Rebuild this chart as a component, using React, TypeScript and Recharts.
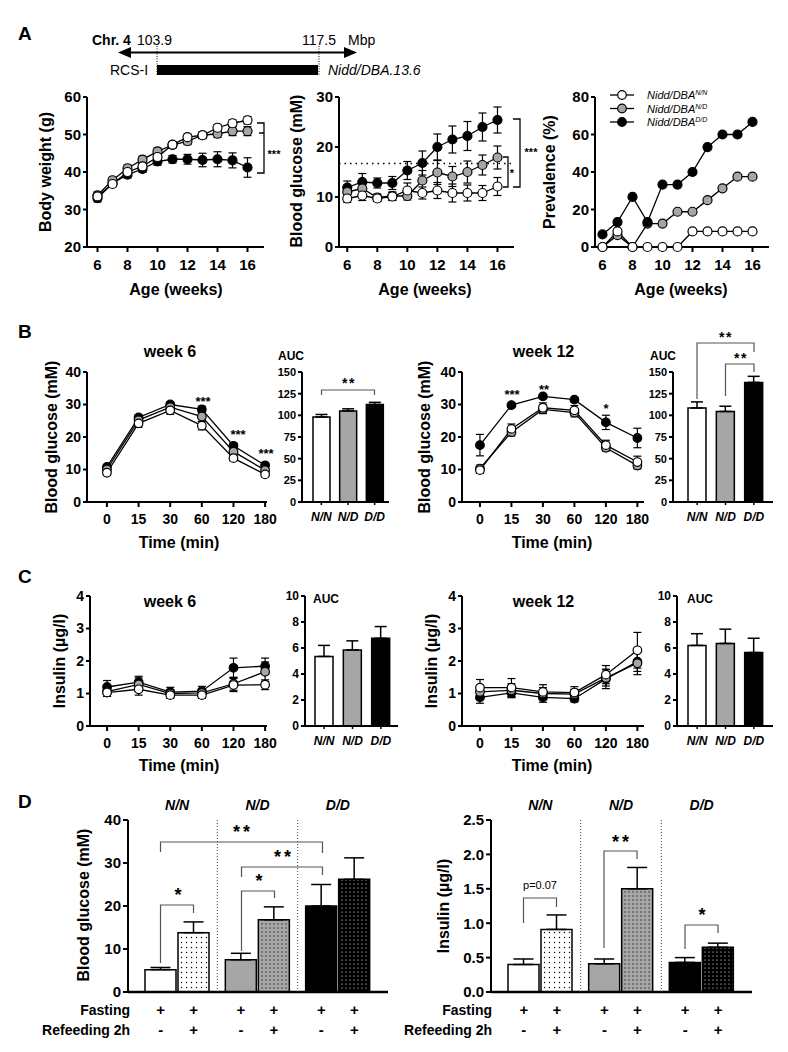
import React from "react";
import { LineChart, Line, BarChart, Bar, Cell, XAxis, YAxis, ErrorBar, ReferenceLine } from "recharts";

// values (mean, SD)
const WEEKS = [6, 7, 8, 9, 10, 11, 12, 13, 14, 15, 16];
const WEEK_TICKS = [6, 8, 10, 12, 14, 16];
const TIMES = ["0", "15", "30", "60", "120", "180"];
const GENOTYPES = ["N/N", "N/D", "D/D"];
const FEEDING = [
  ["+", "+"],
  ["-", "+"],
];

const BW_NN = [33.5, 36.8, 40.0, 41.5, 44.0, 47.3, 49.3, 49.8, 51.8, 53.0, 53.8];
const BW_NN_SD = [0.8, 0.7, 0.8, 0.8, 0.8, 0.7, 0.8, 0.8, 0.9, 0.9, 1.0];
const BW_ND = [33.8, 37.8, 41.0, 43.3, 45.5, 47.2, 48.2, 49.8, 50.2, 50.9, 50.9];
const BW_ND_SD = [0.9, 0.8, 0.9, 0.9, 0.9, 0.8, 0.9, 0.9, 1.0, 1.2, 1.2];
const BW_DD = [33.0, 37.0, 39.3, 40.8, 42.8, 43.4, 43.4, 43.2, 43.4, 43.1, 41.2];
const BW_DD_SD = [1.0, 0.8, 0.9, 0.9, 1.0, 1.0, 1.3, 1.8, 2.0, 2.0, 2.6];

const BG_NN = [9.7, 10.3, 9.7, 10.1, 11.3, 10.8, 11.3, 10.8, 10.8, 10.8, 12.1];
const BG_NN_SD = [0.8, 1.0, 0.6, 0.8, 1.5, 1.2, 1.6, 1.8, 1.6, 1.5, 1.8];
const BG_ND = [11.0, 11.7, 9.9, 10.2, 10.2, 13.3, 14.9, 14.1, 15.0, 16.4, 17.9];
const BG_ND_SD = [0.8, 1.2, 0.7, 0.8, 0.8, 2.0, 2.4, 2.0, 2.2, 2.0, 2.3];
const BG_DD = [11.9, 13.0, 12.8, 12.8, 15.3, 16.8, 20.0, 21.5, 22.2, 24.0, 25.4];
const BG_DD_SD = [1.3, 1.7, 1.0, 1.3, 1.8, 2.4, 2.6, 2.7, 2.9, 2.8, 2.6];
const DIABETES_CUTOFF = 16.7;

const PREV_NN = [0, 8.3, 0, 0, 0, 0, 8.3, 8.3, 8.3, 8.3, 8.3];
const PREV_ND = [0, 6.3, 0, 12.5, 12.5, 18.8, 18.8, 25, 31.3, 37.5, 37.5];
const PREV_DD = [6.7, 13.3, 26.7, 13.3, 33.3, 33.3, 40, 53.3, 60, 60, 66.7];

const GTT6_NN = [9.0, 24.2, 28.2, 23.5, 13.5, 8.5];
const GTT6_NN_SD = [0.8, 1.2, 1.2, 1.3, 0.8, 0.7];
const GTT6_ND = [10.0, 25.2, 29.2, 26.3, 15.5, 9.8];
const GTT6_ND_SD = [0.6, 1.0, 1.0, 1.5, 1.0, 0.7];
const GTT6_DD = [10.8, 26.0, 30.0, 28.5, 17.3, 11.3];
const GTT6_DD_SD = [0.6, 0.8, 0.8, 1.0, 0.8, 0.7];
const GTT6_AUC = [98, 105, 112.5];
const GTT6_AUC_SD = [3, 2.5, 2.5];

const GTT12_NN = [9.8, 22.5, 29.0, 28.2, 17.5, 12.3];
const GTT12_NN_SD = [1.0, 1.5, 1.5, 1.5, 1.5, 1.8];
const GTT12_ND = [10.3, 21.5, 28.5, 27.5, 16.7, 11.2];
const GTT12_ND_SD = [1.0, 1.2, 1.3, 1.3, 1.0, 1.0];
const GTT12_DD = [17.5, 29.8, 32.5, 31.5, 24.5, 19.7];
const GTT12_DD_SD = [3.3, 0.6, 0.6, 0.6, 2.2, 3.0];
const GTT12_AUC = [108.5, 104.5, 138];
const GTT12_AUC_SD = [7, 6, 7];

const INS6_NN = [1.03, 1.13, 0.95, 0.95, 1.26, 1.27];
const INS6_NN_SD = [0.12, 0.18, 0.1, 0.1, 0.2, 0.15];
const INS6_ND = [1.06, 1.28, 1.0, 1.02, 1.3, 1.67];
const INS6_ND_SD = [0.15, 0.2, 0.12, 0.12, 0.2, 0.3];
const INS6_DD = [1.2, 1.35, 1.04, 1.07, 1.79, 1.84];
const INS6_DD_SD = [0.2, 0.18, 0.15, 0.15, 0.3, 0.25];
const INS6_AUC = [5.35, 5.85, 6.75];
const INS6_AUC_SD = [0.85, 0.7, 0.9];

const INS12_NN = [1.18, 1.18, 1.05, 1.03, 1.58, 2.33];
const INS12_NN_SD = [0.25, 0.28, 0.22, 0.18, 0.28, 0.55];
const INS12_ND = [1.05, 1.1, 1.0, 0.98, 1.48, 1.93];
const INS12_ND_SD = [0.2, 0.2, 0.18, 0.15, 0.25, 0.35];
const INS12_DD = [0.88, 1.02, 0.88, 0.84, 1.45, 1.98];
const INS12_DD_SD = [0.18, 0.15, 0.15, 0.1, 0.3, 0.3];
const INS12_AUC = [6.2, 6.35, 5.65];
const INS12_AUC_SD = [0.9, 1.1, 1.1];

const FAST_GLU = [5.2, 7.5, 20.0];
const FAST_GLU_SD = [0.5, 1.5, 5.0];
const REFED_GLU = [13.8, 16.8, 26.2];
const REFED_GLU_SD = [2.5, 3.0, 5.0];
const FAST_INS = [0.4, 0.41, 0.43];
const FAST_INS_SD = [0.08, 0.07, 0.07];
const REFED_INS = [0.91, 1.5, 0.65];
const REFED_INS_SD = [0.21, 0.31, 0.06];

// ---- styling ----
const FONT = '"Liberation Sans", Arial, Helvetica, sans-serif';
const GRAY = "#a6a6a6";
const FILL: Record<string, string> = { nn: "#ffffff", nd: GRAY, dd: "#000000" };
const REFED_FILL = ["url(#dotW)", "url(#dotG)", "url(#dotK)"];
const AXIS = { stroke: "#000", strokeWidth: 2 };
const BAR_D = 31;
const GAP_D = 2;

const tickStyle = (size: number, italic = false) => ({
  fill: "#000",
  fontSize: size,
  fontWeight: 700,
  fontFamily: FONT,
  fontStyle: italic ? "italic" : "normal",
});

type Pad = { l: number; t: number; r: number; b: number };
const PAD: Pad = { l: 44, t: 12, r: 14, b: 34 };
const PAD_D: Pad = { l: 44, t: 30, r: 10, b: 50 };

function place(x0: number, y0: number, x1: number, y1: number, p: Pad = PAD) {
  const width = x1 - x0 + p.l + p.r;
  const height = y1 - y0 + p.t + p.b;
  return {
    style: { position: "absolute", left: x0 - p.l, top: y0 - p.t, width, height } as React.CSSProperties,
    width,
    height,
  };
}

function rows(xs: number[], nn: number[], nd: number[], dd: number[], nnE?: number[], ndE?: number[], ddE?: number[]) {
  return xs.map((x, i) => ({
    x,
    nn: nn[i],
    nd: nd[i],
    dd: dd[i],
    nnE: nnE ? nnE[i] : 0,
    ndE: ndE ? ndE[i] : 0,
    ddE: ddE ? ddE[i] : 0,
  }));
}
const TIME_IDX = TIMES.map((_, i) => i);

function seriesLines(order: string[], r: number, err: boolean) {
  return order.map((k) => (
    <Line
      key={k}
      type="linear"
      dataKey={k}
      stroke="#000"
      strokeWidth={1.3}
      isAnimationActive={false}
      activeDot={false}
      dot={{ r, fill: FILL[k], stroke: "#000", strokeWidth: 1.2 }}
    >
      {err ? <ErrorBar dataKey={k + "E"} width={4} stroke="#000" strokeWidth={1.2} direction="y" isAnimationActive={false} /> : null}
    </Line>
  ));
}

type CourseProps = {
  box: number[];
  data: any[];
  xDomain: number[];
  xTicks: number[];
  xFormat?: (v: number) => string;
  yDomain: number[];
  yTicks: number[];
  order: string[];
  err: boolean;
  r: number;
  font: number;
  cutoff?: number;
};

function Course({ box, data, xDomain, xTicks, xFormat, yDomain, yTicks, order, err, r, font, cutoff }: CourseProps) {
  const f = place(box[0], box[1], box[2], box[3]);
  return (
    <div style={f.style}>
      <LineChart width={f.width} height={f.height} data={data} margin={{ top: PAD.t, right: PAD.r, bottom: 0, left: 0 }}>
        <XAxis
          dataKey="x"
          type="number"
          domain={xDomain}
          ticks={xTicks}
          interval={0}
          tickFormatter={xFormat}
          axisLine={AXIS}
          tickLine={AXIS}
          tickSize={5}
          tickMargin={7}
          tick={tickStyle(font)}
          height={PAD.b}
        />
        <YAxis
          type="number"
          domain={yDomain}
          ticks={yTicks}
          interval={0}
          axisLine={AXIS}
          tickLine={AXIS}
          tickSize={4}
          tickMargin={2}
          tick={tickStyle(font)}
          width={PAD.l}
        />
        {cutoff !== undefined ? (
          <ReferenceLine y={cutoff} stroke="#000" strokeWidth={1.6} strokeDasharray="1.5 4" />
        ) : null}
        {seriesLines(order, r, err)}
      </LineChart>
    </div>
  );
}

type AucProps = {
  box: number[];
  values: number[];
  sd: number[];
  yDomain: number[];
  yTicks: number[];
  barSize: number;
  padL: number;
  padR: number;
  font: number;
};

function Auc({ box, values, sd, yDomain, yTicks, barSize, padL, padR, font }: AucProps) {
  const f = place(box[0], box[1], box[2], box[3]);
  const data = GENOTYPES.map((g, i) => ({ g, v: values[i], e: [0, sd[i]] }));
  const fills = [FILL.nn, FILL.nd, FILL.dd];
  return (
    <div style={f.style}>
      <BarChart width={f.width} height={f.height} data={data} margin={{ top: PAD.t, right: PAD.r, bottom: 0, left: 0 }} barSize={barSize}>
        <XAxis
          dataKey="g"
          interval={0}
          padding={{ left: padL, right: padR }}
          axisLine={AXIS}
          tickLine={{ stroke: "#000", strokeWidth: 1.5 }}
          tickSize={3}
          tickMargin={7}
          tick={tickStyle(12, true)}
          height={PAD.b}
        />
        <YAxis
          type="number"
          domain={yDomain}
          ticks={yTicks}
          interval={0}
          axisLine={AXIS}
          tickLine={AXIS}
          tickSize={4}
          tickMargin={2}
          tick={tickStyle(font)}
          width={PAD.l}
        />
        <Bar dataKey="v" stroke="#000" strokeWidth={1.5} isAnimationActive={false}>
          {data.map((_, i) => (
            <Cell key={i} fill={fills[i]} />
          ))}
          <ErrorBar dataKey="e" width={6} stroke="#000" strokeWidth={1.5} direction="y" isAnimationActive={false} />
        </Bar>
      </BarChart>
    </div>
  );
}

function FeedTick(props: any) {
  const { x, y } = props;
  const off = (BAR_D + GAP_D) / 2;
  return (
    <g>
      {FEEDING.map((row, r) =>
        row.map((s, j) => (
          <text
            key={`${r}-${j}`}
            x={x + (j === 0 ? -off : off)}
            y={y + 23 + r * 20}
            textAnchor="middle"
            fontSize={15}
            fontWeight={700}
            fontFamily={FONT}
            fill="#000"
          >
            {s}
          </text>
        ))
      )}
    </g>
  );
}

type FeedProps = {
  box: number[];
  fast: number[];
  fastSd: number[];
  refed: number[];
  refedSd: number[];
  yDomain: number[];
  yTicks: number[];
  yFormat?: (v: number) => string;
  padL: number;
  padR: number;
};

function Feeding({ box, fast, fastSd, refed, refedSd, yDomain, yTicks, yFormat, padL, padR }: FeedProps) {
  const f = place(box[0], box[1], box[2], box[3], PAD_D);
  const fills = [FILL.nn, FILL.nd, FILL.dd];
  const data = GENOTYPES.map((g, i) => ({
    g,
    fast: fast[i],
    fastE: [0, fastSd[i]],
    refed: refed[i],
    refedE: [0, refedSd[i]],
  }));
  return (
    <div style={f.style}>
      <BarChart
        width={f.width}
        height={f.height}
        data={data}
        margin={{ top: 2, right: PAD_D.r, bottom: 0, left: 0 }}
        barSize={BAR_D}
        barGap={GAP_D}
      >
        <XAxis
          dataKey="g"
          interval={0}
          padding={{ left: padL, right: padR }}
          axisLine={{ stroke: "#000", strokeWidth: 2.5 }}
          tickLine={false}
          tickSize={0}
          tickMargin={0}
          tick={FeedTick}
          height={PAD_D.b}
        />
        <XAxis
          xAxisId="top"
          orientation="top"
          dataKey="g"
          interval={0}
          padding={{ left: padL, right: padR }}
          axisLine={false}
          tickLine={false}
          tickSize={6}
          tickMargin={4}
          tick={tickStyle(14, true)}
          height={28}
        />
        <YAxis
          type="number"
          domain={yDomain}
          ticks={yTicks}
          interval={0}
          tickFormatter={yFormat}
          axisLine={AXIS}
          tickLine={AXIS}
          tickSize={5}
          tickMargin={2}
          tick={tickStyle(15)}
          width={PAD_D.l}
        />
        <ReferenceLine x="N/D" position="start" stroke="#444" strokeWidth={1} strokeDasharray="1 2" />
        <ReferenceLine x="D/D" position="start" stroke="#444" strokeWidth={1} strokeDasharray="1 2" />
        <Bar dataKey="fast" stroke="#000" strokeWidth={1.5} isAnimationActive={false}>
          {data.map((_, i) => (
            <Cell key={i} fill={fills[i]} />
          ))}
          <ErrorBar dataKey="fastE" width={10} stroke="#000" strokeWidth={1.5} direction="y" isAnimationActive={false} />
        </Bar>
        <Bar dataKey="refed" stroke="#000" strokeWidth={1.5} isAnimationActive={false}>
          {data.map((_, i) => (
            <Cell key={i} fill={REFED_FILL[i]} />
          ))}
          <ErrorBar dataKey="refedE" width={10} stroke="#000" strokeWidth={1.5} direction="y" isAnimationActive={false} />
        </Bar>
      </BarChart>
    </div>
  );
}

type LP = {
  x: number;
  y: number;
  size?: number;
  bold?: boolean;
  italic?: boolean;
  anchor?: "start" | "middle" | "end";
  rotate?: boolean;
  spacing?: number;
  children: React.ReactNode;
};

function Label({ x, y, size = 16, bold = true, italic = false, anchor = "middle", rotate = false, spacing, children }: LP) {
  return (
    <text
      x={rotate ? 0 : x}
      y={rotate ? 0 : y}
      transform={rotate ? `translate(${x} ${y}) rotate(-90)` : undefined}
      dominantBaseline={rotate ? "central" : undefined}
      fontSize={size}
      fontWeight={bold ? 700 : 400}
      fontStyle={italic ? "italic" : "normal"}
      textAnchor={anchor}
      fontFamily={FONT}
      fill="#000"
      letterSpacing={spacing}
    >
      {children}
    </text>
  );
}

const Stars = ({ x, cy, n, size, spacing }: { x: number; cy: number; n: number; size: number; spacing?: number }) => (
  <Label x={x} y={cy + 0.55 * size} size={size} spacing={spacing}>
    {"*".repeat(n)}
  </Label>
);

const Bracket = ({ d, color = "#555" }: { d: string; color?: string }) => (
  <path d={d} fill="none" stroke={color} strokeWidth={color === "#000" ? 1.3 : 1.2} />
);

function Overlay() {
  const legend = [
    { k: "nn", sup: "N/N", y: 95 },
    { k: "nd", sup: "N/D", y: 108.5 },
    { k: "dd", sup: "D/D", y: 122 },
  ];
  return (
    <svg width={788} height={1052} style={{ position: "absolute", left: 0, top: 0, pointerEvents: "none" }}>
      {/* panel letters */}
      <Label x={18} y={40} size={19} anchor="start">A</Label>
      <Label x={18} y={338} size={19} anchor="start">B</Label>
      <Label x={18} y={583} size={19} anchor="start">C</Label>
      <Label x={18} y={808} size={19} anchor="start">D</Label>

      {/* congenic interval */}
      <Label x={92} y={45} size={14} anchor="start">Chr. 4</Label>
      <Label x={137} y={45} size={14} bold={false} anchor="start">103.9</Label>
      <Label x={302} y={45} size={14} bold={false} anchor="start">117.5</Label>
      <Label x={348} y={45} size={14} bold={false} anchor="start">Mbp</Label>
      <line x1={128} y1={52.5} x2={347} y2={52.5} stroke="#000" strokeWidth={2} />
      <polygon points="118,52.5 131,47 131,58" fill="#000" />
      <polygon points="357,52.5 344,47 344,58" fill="#000" />
      <line x1={157} y1={46} x2={157} y2={75} stroke="#000" strokeWidth={1} strokeDasharray="1 1.5" />
      <line x1={319} y1={46} x2={319} y2={75} stroke="#000" strokeWidth={1} strokeDasharray="1 1.5" />
      <rect x={157} y={65} width={161} height={10} fill="#000" />
      <Label x={110} y={75} size={14} bold={false} anchor="start">RCS-I</Label>
      <Label x={328} y={75} size={14} bold={false} italic anchor="start">Nidd/DBA.13.6</Label>

      {/* panel A titles */}
      <Label x={45} y={172} rotate>Body weight (g)</Label>
      <Label x={296} y={171} rotate>Blood glucose (mM)</Label>
      <Label x={549} y={172} rotate>Prevalence (%)</Label>
      <Label x={176} y={295}>Age (weeks)</Label>
      <Label x={425} y={295}>Age (weeks)</Label>
      <Label x={681} y={295}>Age (weeks)</Label>
      <Bracket color="#000" d="M257 123 H264 V173 H257 M259 133 H264" />
      <Stars x={274} cy={152} n={3} size={11} />
      <Bracket color="#000" d="M513 119 H520 V187 H513" />
      <Stars x={531} cy={150} n={3} size={11} />
      <Bracket color="#000" d="M503 157 H508 V187 H503" />
      <Stars x={512} cy={171} n={1} size={11} />
      {legend.map((e) => (
        <g key={e.k}>
          <line x1={610} y1={e.y} x2={634} y2={e.y} stroke="#000" strokeWidth={1.3} />
          <circle cx={622} cy={e.y} r={4.3} fill={FILL[e.k]} stroke="#000" strokeWidth={1.2} />
          <text x={647} y={e.y + 4} fontSize={11} fontStyle="italic" fontFamily={FONT} fill="#000">
            Nidd/DBA
            <tspan fontSize={7} dy={-4}>
              {e.sup}
            </tspan>
          </text>
        </g>
      ))}

      {/* panel B */}
      <Label x={170} y={357}>week 6</Label>
      <Label x={543.5} y={357}>week 12</Label>
      <Label x={278} y={360} size={12} anchor="start">AUC</Label>
      <Label x={650} y={360} size={12} anchor="start">AUC</Label>
      <Label x={51} y={437} rotate>Blood glucose (mM)</Label>
      <Label x={424} y={437} rotate>Blood glucose (mM)</Label>
      <Label x={179} y={548}>Time (min)</Label>
      <Label x={552} y={548}>Time (min)</Label>
      <Stars x={203} cy={398.5} n={3} size={13} />
      <Stars x={238} cy={432} n={3} size={13} />
      <Stars x={266} cy={451} n={3} size={13} />
      <Stars x={512} cy={392} n={3} size={13} />
      <Stars x={544} cy={387} n={2} size={13} />
      <Stars x={606} cy={406} n={1} size={13} />
      <Bracket d="M321.5 395 V390 H374.5 V395" />
      <Stars x={349} cy={380} n={2} size={14} spacing={1.5} />
      <Bracket d="M697 399 V343 H754 V352" />
      <Stars x={726} cy={334.5} n={2} size={14} spacing={1.5} />
      <Bracket d="M725.5 396 V364 H754 V372" />
      <Stars x={741} cy={355} n={2} size={14} spacing={1.5} />

      {/* panel C */}
      <Label x={170} y={607}>week 6</Label>
      <Label x={543.5} y={607}>week 12</Label>
      <Label x={313} y={603} size={12} anchor="start">AUC</Label>
      <Label x={687} y={603} size={12} anchor="start">AUC</Label>
      <Label x={59} y={661} rotate>Insulin (µg/l)</Label>
      <Label x={431} y={661} rotate>Insulin (µg/l)</Label>
      <Label x={179} y={771}>Time (min)</Label>
      <Label x={552} y={771}>Time (min)</Label>

      {/* panel D */}
      <Label x={83} y={905} rotate>Blood glucose (mM)</Label>
      <Label x={443} y={906} rotate>Insulin (µg/l)</Label>
      <Label x={130} y={1015} size={14} anchor="end">Fasting</Label>
      <Label x={130} y={1035} size={14} anchor="end">Refeeding 2h</Label>
      <Label x={492} y={1015} size={14} anchor="end">Fasting</Label>
      <Label x={492} y={1035} size={14} anchor="end">Refeeding 2h</Label>
      <Bracket d="M160.5 963 V905 H193.5 V913" />
      <Stars x={178} cy={891.5} n={1} size={18} />
      <Bracket d="M241.5 951 V891 H274.5 V898" />
      <Stars x={259} cy={877.5} n={1} size={18} />
      <Bracket d="M241.5 877 V867 H322.5 V875" />
      <Stars x={284} cy={853} n={2} size={18} spacing={3} />
      <Bracket d="M160.5 852 V842 H322.5 V853" />
      <Stars x={243} cy={828.5} n={2} size={18} spacing={3} />
      <Bracket d="M523.5 923 V898 H556.5 V907" />
      <Label x={540} y={889} size={11} bold={false}>p=0.07</Label>
      <Bracket d="M604 948 V851 H637 V859" />
      <Stars x={622} cy={838} n={2} size={18} spacing={3} />
      <Bracket d="M685 949 V925 H718 V933" />
      <Stars x={702} cy={911.5} n={1} size={18} />
    </svg>
  );
}

export default function App() {
  const order = ["dd", "nd", "nn"];
  const fmtTime = (v: number) => TIMES[v] ?? "";
  return (
    <div style={{ position: "relative", width: 788, height: 1052, background: "#fff", overflow: "hidden", fontFamily: FONT }}>
      <style>{"body{margin:0}"}</style>
      <svg width={0} height={0} style={{ position: "absolute" }}>
        <defs>
          <pattern id="dotW" width={5} height={5} patternUnits="userSpaceOnUse">
            <rect width={5} height={5} fill="#fff" />
            <circle cx={2.5} cy={2.5} r={0.7} fill="#000" />
          </pattern>
          <pattern id="dotG" width={4} height={4} patternUnits="userSpaceOnUse">
            <rect width={4} height={4} fill={GRAY} />
            <circle cx={2} cy={2} r={0.7} fill="#222" />
          </pattern>
          <pattern id="dotK" width={4} height={4} patternUnits="userSpaceOnUse">
            <rect width={4} height={4} fill="#000" />
            <circle cx={2} cy={2} r={0.6} fill="#fff" />
          </pattern>
        </defs>
      </svg>

      {/* A */}
      <Course
        box={[87, 97, 264, 247]}
        data={rows(WEEKS, BW_NN, BW_ND, BW_DD, BW_NN_SD, BW_ND_SD, BW_DD_SD)}
        xDomain={[5.3, 17.1]}
        xTicks={WEEK_TICKS}
        yDomain={[20, 60]}
        yTicks={[20, 30, 40, 50, 60]}
        order={order}
        err
        r={4.5}
        font={15}
      />
      <Course
        box={[339, 97, 514, 247]}
        data={rows(WEEKS, BG_NN, BG_ND, BG_DD, BG_NN_SD, BG_ND_SD, BG_DD_SD)}
        xDomain={[5.45, 17.1]}
        xTicks={WEEK_TICKS}
        yDomain={[0, 30]}
        yTicks={[0, 10, 20, 30]}
        order={order}
        err
        r={4.5}
        font={15}
        cutoff={DIABETES_CUTOFF}
      />
      <Course
        box={[595, 97, 769, 247]}
        data={rows(WEEKS, PREV_NN, PREV_ND, PREV_DD)}
        xDomain={[5.5, 17.1]}
        xTicks={WEEK_TICKS}
        yDomain={[0, 80]}
        yTicks={[0, 20, 40, 60, 80]}
        order={["nd", "dd", "nn"]}
        err={false}
        r={4.5}
        font={15}
      />

      {/* B */}
      <Course
        box={[87, 372, 267, 502]}
        data={rows(TIME_IDX, GTT6_NN, GTT6_ND, GTT6_DD, GTT6_NN_SD, GTT6_ND_SD, GTT6_DD_SD)}
        xDomain={[-0.63, 5.06]}
        xTicks={TIME_IDX}
        xFormat={fmtTime}
        yDomain={[0, 40]}
        yTicks={[0, 10, 20, 30, 40]}
        order={order}
        err
        r={4.3}
        font={14}
      />
      <Auc box={[302, 372, 389, 502]} values={GTT6_AUC} sd={GTT6_AUC_SD} yDomain={[0, 150]} yTicks={[0, 25, 50, 75, 100, 125, 150]} barSize={17} padL={6} padR={1} font={11} />
      <Course
        box={[462, 372, 644, 502]}
        data={rows(TIME_IDX, GTT12_NN, GTT12_ND, GTT12_DD, GTT12_NN_SD, GTT12_ND_SD, GTT12_DD_SD)}
        xDomain={[-0.57, 5.21]}
        xTicks={TIME_IDX}
        xFormat={fmtTime}
        yDomain={[0, 40]}
        yTicks={[0, 10, 20, 30, 40]}
        order={order}
        err
        r={4.3}
        font={14}
      />
      <Auc box={[673, 372, 773, 502]} values={GTT12_AUC} sd={GTT12_AUC_SD} yDomain={[0, 150]} yTicks={[0, 25, 50, 75, 100, 125, 150]} barSize={18} padL={10} padR={5} font={11} />

      {/* C */}
      <Course
        box={[90, 596, 267, 726]}
        data={rows(TIME_IDX, INS6_NN, INS6_ND, INS6_DD, INS6_NN_SD, INS6_ND_SD, INS6_DD_SD)}
        xDomain={[-0.54, 5.06]}
        xTicks={TIME_IDX}
        xFormat={fmtTime}
        yDomain={[0, 4]}
        yTicks={[0, 1, 2, 3, 4]}
        order={order}
        err
        r={4.3}
        font={14}
      />
      <Auc box={[305, 596, 398, 726]} values={INS6_AUC} sd={INS6_AUC_SD} yDomain={[0, 10]} yTicks={[0, 2, 4, 6, 8, 10]} barSize={18} padL={5} padR={3} font={12} />
      <Course
        box={[462, 596, 644, 726]}
        data={rows(TIME_IDX, INS12_NN, INS12_ND, INS12_DD, INS12_NN_SD, INS12_ND_SD, INS12_DD_SD)}
        xDomain={[-0.57, 5.21]}
        xTicks={TIME_IDX}
        xFormat={fmtTime}
        yDomain={[0, 4]}
        yTicks={[0, 1, 2, 3, 4]}
        order={order}
        err
        r={4.3}
        font={14}
      />
      <Auc box={[677, 596, 773, 726]} values={INS12_AUC} sd={INS12_AUC_SD} yDomain={[0, 10]} yTicks={[0, 2, 4, 6, 8, 10]} barSize={18} padL={6} padR={5} font={12} />

      {/* D */}
      <Feeding
        box={[128, 820, 388, 992]}
        fast={FAST_GLU}
        fastSd={FAST_GLU_SD}
        refed={REFED_GLU}
        refedSd={REFED_GLU_SD}
        yDomain={[0, 40]}
        yTicks={[0, 10, 20, 30, 40]}
        padL={9}
        padR={10}
      />
      <Feeding
        box={[491, 820, 752, 992]}
        fast={FAST_INS}
        fastSd={FAST_INS_SD}
        refed={REFED_INS}
        refedSd={REFED_INS_SD}
        yDomain={[0, 2.5]}
        yTicks={[0, 0.5, 1, 1.5, 2, 2.5]}
        yFormat={(v: number) => v.toFixed(1)}
        padL={9}
        padR={10}
      />

      <Overlay />
    </div>
  );
}
